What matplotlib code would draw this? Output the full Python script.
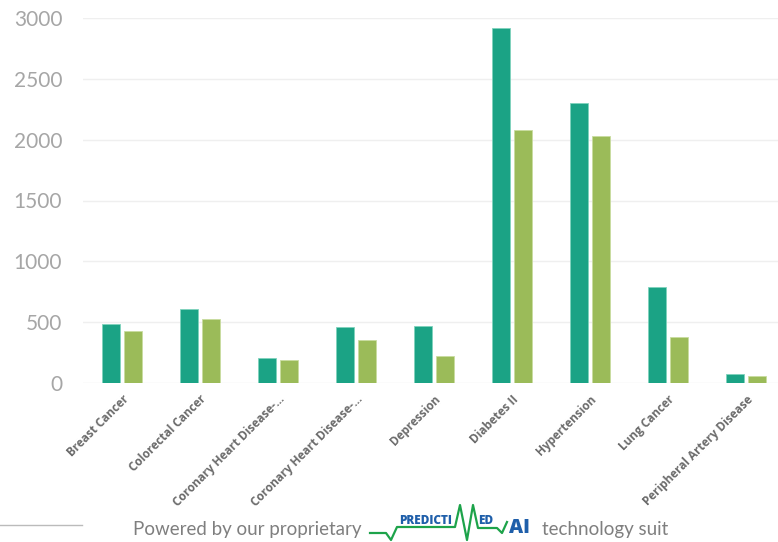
import matplotlib.pyplot as plt
import numpy as np

plt.rcParams["font.family"] = ["Lato", "DejaVu Sans"]

diseases = ["Breast Cancer", "Colorectal Cancer", "Coronary Heart Disease-...",
            "Coronary Heart Disease-...", "Depression", "Diabetes II",
            "Hypertension", "Lung Cancer", "Peripheral Artery Disease"]
series_a = [485, 608, 205, 460, 468, 2917, 2300, 789, 74]
series_b = [427, 526, 189, 353, 222, 2079, 2030, 378, 58]

fig = plt.figure(figsize=(7.78, 5.42), dpi=100)
# axis runs past the right edge, like the cropped original
ax = fig.add_axes([83 / 778, 1 - 383 / 542, 702 / 778, 365 / 542])

x = np.arange(len(diseases))
w = 0.23
ax.bar(x - 0.14, series_a, w, color="#1BA385", edgecolor="#7FD3BD", linewidth=0.6, zorder=3)
ax.bar(x + 0.14, series_b, w, color="#9BBB59", edgecolor="#C9DCA0", linewidth=0.6, zorder=3)

ax.set_xlim(-0.5, len(diseases) - 0.5)
ax.set_ylim(0, 3000)
ax.set_yticks(range(0, 3001, 500))
ax.grid(axis="y", color="#EFEFEF", linewidth=1, zorder=0)
for s in ax.spines.values():
    s.set_visible(False)
ax.tick_params(axis="y", length=0, pad=15, labelsize=15, labelcolor="#A6A6A6")
ax.tick_params(axis="x", length=0, pad=7)
ax.set_xticks(x)
ax.set_xticklabels(diseases, rotation=45, ha="right", rotation_mode="anchor",
                   fontsize=8.5, fontweight="bold", color="#6B6B6B",
                   family=["Open Sans", "DejaVu Sans"])

# footer
fig.add_artist(plt.Line2D([0, 82 / 778], [1 - 525 / 542] * 2, color="#BBBBBB", linewidth=1))
fig.text(133 / 778, 1 - 530 / 542, "Powered by our proprietary", fontsize=13.5,
         color="#7F7F7F", va="center")
hx = np.array([370, 386, 391, 397, 455, 460, 467, 473, 478, 497, 502, 507]) / 778
hy = 1 - np.array([533, 533, 540, 527, 527, 505, 540, 505, 528, 528, 533, 522]) / 542
fig.add_artist(plt.Line2D(hx, hy, color="#1DA34A", linewidth=1.6))
fig.text(399 / 778, 1 - 521 / 542, "PREDICTI", fontsize=8.5, fontweight="heavy",
         color="#1F5FAA", va="center", family=["Open Sans", "DejaVu Sans"])
fig.text(478 / 778, 1 - 521 / 542, "ED", fontsize=8.5, fontweight="heavy",
         color="#1F5FAA", va="center", family=["Open Sans", "DejaVu Sans"])
fig.text(509 / 778, 1 - 528 / 542, "AI", fontsize=14, fontweight="heavy",
         color="#1F5FAA", va="center", family=["Open Sans", "DejaVu Sans"])
fig.text(542 / 778, 1 - 530 / 542, "technology suit", fontsize=13.5,
         color="#7F7F7F", va="center")

fig.savefig("out.png", dpi=100)
